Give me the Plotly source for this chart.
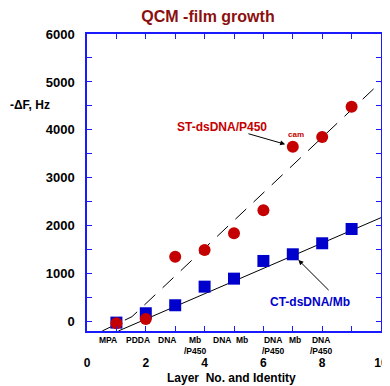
import plotly.graph_objects as go

layers = [1, 2, 3, 4, 5, 6, 7, 8, 9]
ct_mb = [-20, 175, 342, 730, 897, 1266, 1405, 1635, 1933]
st_p450 = [-35, 56, 1356, 1495, 1843, 2323, 3650, 3852, 4484]

fit_ct_x = [1.07, 10.0]
fit_ct_y = [-194, 2169]
fit_st_x = [0.52, 1.53, 10.0]
fit_st_y = [-194, 104, 5000]

cat_labels = ["MPA", "PDDA", "DNA", "Mb<br>/P450", "DNA", "Mb", "DNA<br>/P450", "Mb", "DNA<br>/P450"]
cat_pos = [0.73, 1.73, 2.73, 3.68, 4.6, 5.28, 6.32, 7.08, 7.96]

x_ticks = [0, 2, 4, 6, 8, 10]
y_ticks = [0, 1000, 2000, 3000, 4000, 5000, 6000]

RED = "#c40000"
BLUE = "#0000cc"
AX = "#1a1aff"
FONT = "Liberation Sans, Arial, sans-serif"

OFF = 8  # browser body margin
W, H = 390 - OFF, 386 - OFF
plot_l, plot_r, plot_top, plot_bot = 87 - OFF, 381 - OFF, 34 - OFF, 331 - OFF
def py(pix):
    return (plot_bot - (pix - OFF)) / (plot_bot - plot_top)
def px(pix):
    return ((pix - OFF) - plot_l) / (plot_r - plot_l)

fig = go.Figure()
fig.add_trace(go.Scatter(x=fit_st_x, y=fit_st_y, mode="lines",
                         line=dict(color="black", width=1, dash="15px,10px"),
                         showlegend=False, hoverinfo="skip"))
fig.add_trace(go.Scatter(x=fit_ct_x, y=fit_ct_y, mode="lines",
                         line=dict(color="black", width=1),
                         showlegend=False, hoverinfo="skip"))
fig.add_trace(go.Scatter(x=layers, y=ct_mb, mode="markers",
                         marker=dict(symbol="square", size=12, color=BLUE),
                         showlegend=False))
fig.add_trace(go.Scatter(x=layers, y=st_p450, mode="markers",
                         marker=dict(symbol="circle", size=12, color=RED),
                         showlegend=False))

ann = []
ann.append(dict(x=6.74, y=3700, ax=5.44, ay=3929, xref="x", yref="y", axref="x", ayref="y",
                text="", showarrow=True, arrowhead=2, arrowsize=1, arrowwidth=1, arrowcolor="black"))
ann.append(dict(x=7.19, y=1287, ax=8.27, ay=626, xref="x", yref="y", axref="x", ayref="y",
                text="", showarrow=True, arrowhead=2, arrowsize=1, arrowwidth=1, arrowcolor="black"))
ann.append(dict(x=4.59, y=4054, xref="x", yref="y", text="<b>ST-dsDNA/P450</b>", showarrow=False,
                font=dict(family=FONT, size=12, color=RED)))
ann.append(dict(x=7.10, y=3894, xref="x", yref="y", text="<b>cam</b>", showarrow=False,
                font=dict(family=FONT, size=8, color=RED)))
ann.append(dict(x=7.59, y=417, xref="x", yref="y", text="<b>CT-dsDNA/Mb</b>", showarrow=False,
                font=dict(family=FONT, size=12, color=BLUE)))
for lab, p in zip(cat_labels, cat_pos):
    ann.append(dict(x=p, y=py(333), xref="x", yref="paper", yanchor="top",
                    text="<b>" + lab + "</b>", showarrow=False, align="center",
                    font=dict(family=FONT, size=8.5, color="black")))
ann.append(dict(x=px(231), y=py(378), xref="paper", yref="paper", yanchor="middle",
                text="<b>Layer  No. and Identity</b>", showarrow=False,
                font=dict(family=FONT, size=12, color="black")))
ann.append(dict(x=px(8), y=py(105), xref="paper", yref="paper", xanchor="left", yanchor="middle",
                text="<b>-ΔF, Hz</b>",
                showarrow=False, font=dict(family=FONT, size=12, color="black")))

fig.update_layout(
    width=W, height=H,
    margin=dict(l=plot_l, r=W - plot_r, t=plot_top, b=H - plot_bot, autoexpand=False),
    paper_bgcolor="white", plot_bgcolor="white",
    title=dict(text="<b>QCM -film growth</b>", x=(208 - OFF) / W, xanchor="center",
               y=1 - (16 - OFF) / H, yanchor="middle",
               font=dict(family=FONT, size=16, color="#8b1010")),
    annotations=ann,
    font=dict(family=FONT),
)
fig.update_xaxes(range=[0, 10], tickvals=x_ticks, ticktext=[f"<b>{v}</b>" for v in x_ticks],
                 ticks="inside", ticklen=5, tickcolor=AX, showline=True, linecolor=AX, linewidth=1.5,
                 mirror="ticks", showgrid=False, zeroline=False, ticklabelstandoff=20, automargin=False,
                 tickfont=dict(family=FONT, size=12, color="black"),
                 minor=dict(dtick=1, ticks="inside", ticklen=5, tickcolor=AX, showgrid=False))
fig.update_yaxes(range=[-195, 6000], tickvals=y_ticks, ticktext=[f"<b>{v}</b>" for v in y_ticks],
                 ticks="inside", ticklen=5, tickcolor=AX, showline=True, linecolor=AX, linewidth=1.5,
                 mirror="ticks", showgrid=False, zeroline=False, ticklabelstandoff=8, automargin=False,
                 tickfont=dict(family=FONT, size=13, color="black"),
                 minor=dict(dtick=500, tick0=0, ticks="inside", ticklen=5, tickcolor=AX, showgrid=False))

fig.write_html("out.html")
